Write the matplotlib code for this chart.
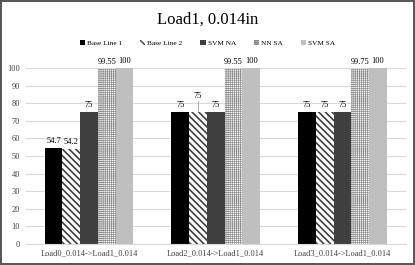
import numpy as np
import matplotlib.pyplot as plt

plt.rcParams['font.family'] = ['Liberation Serif', 'DejaVu Serif']

# chart data
categories = ["Load0_0.014->Load1_0.014", "Load2_0.014->Load1_0.014", "Load3_0.014->Load1_0.014"]
series_names = ["Base Line 1", "Base Line 2", "SVM NA", "NN SA", "SVM SA"]
base_line_1 = [54.7, 75, 75]
base_line_2 = [54.2, 75, 75]
svm_na = [75, 75, 75]
nn_sa = [99.55, 99.55, 99.75]
svm_sa = [100, 100, 100]
title = "Load1, 0.014in"

series = [base_line_1, base_line_2, svm_na, nn_sa, svm_sa]
styles = [
    dict(color="black", hatch=None, edge="black", hlw=1.0),
    dict(color="white", hatch="\\\\\\\\\\", edge="#404040", hlw=1.2),
    dict(color="#404040", hatch=None, edge="#404040", hlw=1.0),
    dict(color="white", hatch="++++++++", edge="#8c8c8c", hlw=0.5),
    dict(color="#bfbfbf", hatch=None, edge="#bfbfbf", hlw=1.0),
]

fig = plt.figure(figsize=(4.15, 2.65), dpi=100)
fig.patch.set_edgecolor("#595959")
fig.patch.set_linewidth(1.5)
ax = fig.add_axes([0.062, 0.079, 0.916, 0.664])

x = np.arange(len(categories))
width = 0.14
bars = []
for i, (vals, st) in enumerate(zip(series, styles)):
    with plt.rc_context({"hatch.linewidth": st["hlw"]}):
        b = ax.bar(x + (i - 2) * width, vals, width, color=st["color"],
                   hatch=st["hatch"], edgecolor=st["edge"], linewidth=0,
                   label=series_names[i], zorder=2)
    bars.append(b)
    for j, (rect, v) in enumerate(zip(b, vals)):
        cx = rect.get_x() + rect.get_width() / 2
        y = v + 1.5
        # the second group's Base Line 2 label sits higher, with a leader line
        if i == 1 and j == 1:
            ax.plot([cx, cx], [v, v + 6.5], color="#a6a6a6", lw=0.6, zorder=3)
            y = v + 7
        ax.text(cx, y, f"{v:g}", ha="center", va="bottom", fontsize=6, clip_on=False)

ax.set_ylim(0, 100)
ax.set_xlim(-0.5, len(categories) - 0.5)
ax.set_yticks(np.arange(0, 101, 10))
ax.set_xticks(x)
ax.set_xticklabels(categories)
ax.tick_params(axis="both", length=0, labelsize=6, colors="#404040", pad=4)
ax.grid(axis="y", color="#d9d9d9", lw=0.8, zorder=0)
for s in ["top", "right", "left"]:
    ax.spines[s].set_visible(False)
ax.spines["bottom"].set_color("#d9d9d9")

fig.suptitle(title, y=0.955, fontsize=12)
fig.legend(handles=bars, labels=series_names, loc="center", bbox_to_anchor=(0.5, 0.838),
           ncol=5, frameon=False, fontsize=5.2, handlelength=0.7, handleheight=0.7,
           handletextpad=0.3, columnspacing=2.5)

fig.savefig("out.png", dpi=100)
